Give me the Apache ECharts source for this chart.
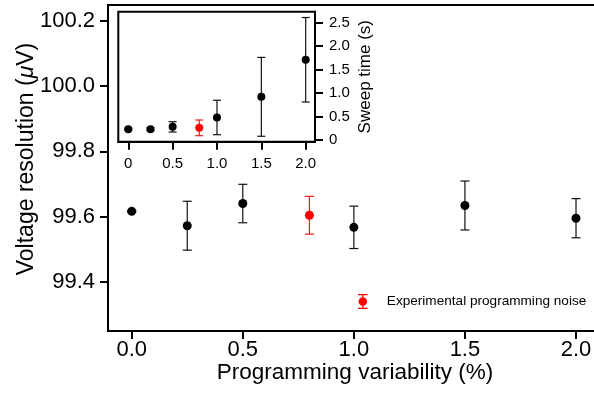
<!DOCTYPE html>
<html>
<head>
<meta charset="utf-8">
<script src="https://cdn.jsdelivr.net/npm/echarts@6/dist/echarts.min.js"></script>
<style>
html,body{margin:0;padding:0;background:#fff;}
#c{width:594px;height:403px;}
</style>
</head>
<body>
<div id="c"></div>
<script>
// ---- data ----
const varX = [0, 0.25, 0.5, 1.0, 1.5, 2.0];
const resY = [99.616, 99.572, 99.640, 99.567, 99.634, 99.595];
const resErr = [0.003, 0.075, 0.059, 0.065, 0.075, 0.060];
const expX = [0.8];
const expResY = [99.604];
const expResErr = [0.058];
const sweepY = [0.23, 0.23, 0.28, 0.48, 0.92, 1.71];
const sweepErr = [0.02, 0.03, 0.11, 0.367, 0.84, 0.90];
const expSweepY = [0.259];
const expSweepErr = [0.167];
const mainXTicks = [0, 0.5, 1.0, 1.5, 2.0];
const mainYTicks = [99.4, 99.6, 99.8, 100.0, 100.2];
const insetXTicks = [0, 0.5, 1.0, 1.5, 2.0];
const insetYTicks = [0, 0.5, 1.0, 1.5, 2.0, 2.5];
const legendName = 'Experimental programming noise';

const FONT = '"Liberation Sans", Arial, Helvetica, sans-serif';

function pts(xs, ys) { return xs.map((x, i) => [x, ys[i]]); }
function errs(xs, ys, es) { return xs.map((x, i) => [x, ys[i], es[i]]); }

function errRender(capHalf, color) {
  return function (params, api) {
    const x = api.value(0), y = api.value(1), e = api.value(2);
    const top = api.coord([x, y + e]);
    const bot = api.coord([x, y - e]);
    const st = { stroke: color, lineWidth: 1.2 };
    return {
      type: 'group',
      children: [
        { type: 'line', shape: { x1: top[0], y1: top[1], x2: bot[0], y2: bot[1] }, style: st },
        { type: 'line', shape: { x1: top[0] - capHalf, y1: top[1], x2: top[0] + capHalf, y2: top[1] }, style: st },
        { type: 'line', shape: { x1: bot[0] - capHalf, y1: bot[1], x2: bot[0] + capHalf, y2: bot[1] }, style: st }
      ]
    };
  };
}

const fmt1 = v => v.toFixed(1);
const fmt0 = v => (v === 0 ? '0' : v.toFixed(1));

const chart = echarts.init(document.getElementById('c'), null, { renderer: 'canvas' });

const axisLineStyle = { onZero: false, lineStyle: { color: '#000', width: 2 } };

chart.setOption({
  animation: false,
  backgroundColor: '#fff',
  textStyle: { fontFamily: FONT, color: '#000' },
  grid: [
    { left: 108, top: 5, width: 490, bottom: 72, outerBoundsMode: 'none', containLabel: false, show: true, borderColor: '#000', borderWidth: 2, backgroundColor: 'transparent' },
    { left: 118.3, top: 11.7, width: 196.7, height: 130, outerBoundsMode: 'none', containLabel: false, show: true, borderColor: '#000', borderWidth: 2, backgroundColor: '#fff', z: 5 }
  ],
  legend: {
    data: [legendName],
    left: 353,
    top: 289,
    itemWidth: 10,
    itemHeight: 15,
    icon: 'path://M0,0H9V1.2H0Z M0,12.8H9V14H0Z M3.9,0H5.1V14H3.9Z M0.5,7A4,4 0 1 1 8.5,7A4,4 0 1 1 0.5,7Z',
    textStyle: { fontFamily: FONT, fontSize: 13.6, color: '#000', padding: [0, 0, 0, 14] }
  },
  xAxis: [
    {
      type: 'value', gridIndex: 0, min: -0.1067, max: 2.099,
      name: 'Programming variability (%)', nameLocation: 'middle', nameGap: 30, nameMoveOverlap: false,
      nameTextStyle: { fontFamily: FONT, fontSize: 22.5, color: '#000', padding: [0, 0, 0, 4] },
      axisLine: axisLineStyle,
      axisTick: { show: true, length: 8, inside: false, customValues: mainXTicks, lineStyle: { color: '#000', width: 2 } },
      axisLabel: { customValues: mainXTicks, formatter: fmt1, fontSize: 22, color: '#000', margin: 8, fontFamily: FONT },
      splitLine: { show: false }
    },
    {
      type: 'value', gridIndex: 1, min: -0.1127, max: 2.105,
      axisLine: axisLineStyle,
      axisTick: { show: true, length: 8, customValues: insetXTicks, lineStyle: { color: '#000', width: 2 } },
      axisLabel: { customValues: insetXTicks, formatter: fmt0, fontSize: 15, color: '#000', margin: 15, fontFamily: FONT },
      splitLine: { show: false }
    }
  ],
  yAxis: [
    {
      type: 'value', gridIndex: 0, min: 99.249, max: 100.249,
      name: 'Voltage resolution ({i|\u03BC}V)', nameLocation: 'middle', nameGap: 70, nameMoveOverlap: false,
      nameTextStyle: { fontFamily: FONT, fontSize: 23, color: '#000', padding: [0, 0, 0, 18],
        rich: { i: { fontFamily: FONT, fontSize: 23, fontStyle: 'italic', color: '#000' } } },
      axisLine: axisLineStyle,
      axisTick: { show: true, length: 8, customValues: mainYTicks, lineStyle: { color: '#000', width: 2 } },
      axisLabel: { customValues: mainYTicks, formatter: fmt1, fontSize: 22, color: '#000', margin: 13, fontFamily: FONT },
      splitLine: { show: false }
    },
    {
      type: 'value', gridIndex: 1, position: 'right', min: -0.036, max: 2.734,
      name: 'Sweep time (s)', nameLocation: 'middle', nameGap: 42, nameMoveOverlap: false,
      nameTextStyle: { fontFamily: FONT, fontSize: 17, color: '#000' },
      axisLine: axisLineStyle,
      axisTick: { show: true, length: 8, customValues: insetYTicks, lineStyle: { color: '#000', width: 2 } },
      axisLabel: { customValues: insetYTicks, formatter: fmt0, fontSize: 15, color: '#000', margin: 14, fontFamily: FONT },
      splitLine: { show: false }
    }
  ],
  series: [
    { type: 'custom', name: 'resErr', xAxisIndex: 0, yAxisIndex: 0, renderItem: errRender(4.5, '#111'), data: errs(varX, resY, resErr), z: 2 },
    { type: 'custom', name: 'expResErr', xAxisIndex: 0, yAxisIndex: 0, renderItem: errRender(4.5, '#f01818'), data: errs(expX, expResY, expResErr), z: 2 },
    { type: 'scatter', name: 'Voltage resolution', xAxisIndex: 0, yAxisIndex: 0, symbol: 'circle', symbolSize: 9, itemStyle: { color: '#000', opacity: 1 }, data: pts(varX, resY), z: 3 },
    { type: 'scatter', name: legendName, xAxisIndex: 0, yAxisIndex: 0, symbol: 'circle', symbolSize: 9, itemStyle: { color: '#ff0000', opacity: 1 }, data: pts(expX, expResY), z: 3 },
    { type: 'custom', name: 'sweepErr', xAxisIndex: 1, yAxisIndex: 1, renderItem: errRender(4, '#111'), data: errs(varX, sweepY, sweepErr), z: 6 },
    { type: 'custom', name: 'expSweepErr', xAxisIndex: 1, yAxisIndex: 1, renderItem: errRender(4, '#f01818'), data: errs(expX, expSweepY, expSweepErr), z: 6 },
    { type: 'scatter', name: 'Sweep time', xAxisIndex: 1, yAxisIndex: 1, symbol: 'circle', symbolSize: 8, itemStyle: { color: '#000', opacity: 1 }, data: pts(varX, sweepY), z: 7 },
    { type: 'scatter', name: 'Sweep time exp', xAxisIndex: 1, yAxisIndex: 1, symbol: 'circle', symbolSize: 8, itemStyle: { color: '#ff0000', opacity: 1 }, data: pts(expX, expSweepY), z: 7 }
  ]
});
</script>
</body>
</html>
